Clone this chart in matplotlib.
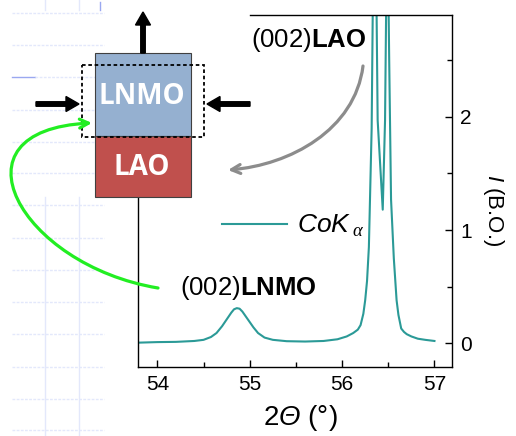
import numpy as np
import matplotlib
matplotlib.use('Agg')
import matplotlib.pyplot as plt
import matplotlib.patches as mpatches
from matplotlib.path import Path
from matplotlib.ticker import MultipleLocator

plt.rcParams['font.family'] = 'Liberation Sans'
plt.rcParams['mathtext.fontset'] = 'custom'
plt.rcParams['mathtext.rm'] = 'Liberation Sans'
plt.rcParams['mathtext.it'] = 'Liberation Sans:italic'
plt.rcParams['mathtext.bf'] = 'Liberation Sans:bold'
# slots used for the italic Greek letters (mathit forces capital Greek upright)
plt.rcParams['mathtext.sf'] = 'Liberation Sans:italic'
plt.rcParams['mathtext.tt'] = 'Liberation Serif:italic'

# XRD scan, 2theta (deg) vs intensity (arb. units)
two_theta = [53.79, 54.0, 54.2, 54.4, 54.5, 54.58, 54.64, 54.7, 54.75, 54.8,
             54.83, 54.86, 54.89, 54.92, 54.98, 55.04, 55.09, 55.16, 55.25, 55.4,
             55.6, 55.8, 55.95, 56.05, 56.12, 56.17, 56.20, 56.23, 56.25, 56.27,
             56.29, 56.32, 56.335, 56.355, 56.37, 56.385, 56.44, 56.465, 56.48, 56.49,
             56.50, 56.51, 56.53, 56.56, 56.59, 56.61, 56.64, 56.67, 56.70, 56.75,
             56.82, 56.9, 57.0]
intensity = [0.005, 0.01, 0.012, 0.02, 0.03, 0.055, 0.09, 0.15, 0.21, 0.27,
             0.30, 0.31, 0.305, 0.28, 0.21, 0.14, 0.09, 0.05, 0.03, 0.018,
             0.015, 0.02, 0.035, 0.06, 0.09, 0.12, 0.16, 0.26, 0.38, 0.55,
             0.85, 1.9, 3.2, 3.6, 3.2, 1.97, 1.18, 1.97, 3.2, 3.6,
             3.2, 2.5, 1.27, 0.75, 0.38, 0.25, 0.13, 0.10, 0.08, 0.06,
             0.04, 0.03, 0.02]

line_color = '#2b9a97'

fig = plt.figure(figsize=(5.16, 4.36), dpi=100)
ax = fig.add_axes([138/516, 1 - 367/436, 314/516, 352/436])

ax.plot(two_theta, intensity, color=line_color, lw=1.5,
        label=r'$CoK_{\;\mathtt{α}}$')
ax.set_xlim(53.79, 57.19)
ax.set_ylim(-0.21, 2.9)

ax.xaxis.set_major_locator(MultipleLocator(1))
ax.xaxis.set_minor_locator(MultipleLocator(0.5))
ax.yaxis.set_major_locator(MultipleLocator(1))
ax.yaxis.set_minor_locator(MultipleLocator(0.5))
ax.yaxis.tick_right()
ax.tick_params(which='both', direction='in', top=False, left=False, right=True,
               labelsize=15, width=1)
ax.tick_params(which='major', length=5, pad=6)
ax.tick_params(which='minor', length=3.5)

for s in ax.spines.values():
    s.set_linewidth(1.0)
ax.spines['top'].set_bounds(55.0, 57.19)
ax.spines['left'].set_bounds(-0.21, 1.29)

ax.set_xlabel(r'2$\mathsf{Θ}$ (°)', fontsize=20)
ax.xaxis.set_label_coords(0.516, -0.145)
ax.xaxis.label.set_va('center')
ax.yaxis.set_label_position('right')
ax.set_ylabel(r'$\mathit{I}$ (B.O.)', fontsize=16, rotation=270)
ax.yaxis.set_label_coords(1.131, 0.447)
ax.yaxis.label.set_va('center')
ax.yaxis.label.set_ha('center')

ax.legend(loc='center left', bbox_to_anchor=(221.7/516, 1 - 226/436),
          bbox_transform=fig.transFigure, frameon=False, fontsize=19,
          handlelength=2.46, handletextpad=0.38, borderpad=0, borderaxespad=0)

ax.text(55.64, 2.68, r'(002)$\mathbf{LAO}$', fontsize=18.5, ha='center', va='center')
ax.text(54.98, 0.49, r'(002)$\mathbf{LNMO}$', fontsize=18.5, ha='center', va='center')

# sketch of the strained film on the substrate, in pixel units
sk = fig.add_axes([0, 0, 1, 1], zorder=3)
sk.set_xlim(0, 516)
sk.set_ylim(436, 0)
sk.axis('off')

# faint ruled background
grid_c = '#e3e8fb'
for gy in [13, 45, 110, 142, 173, 205, 238, 270, 302, 334, 367, 399, 430]:
    sk.plot([12, 104], [gy, gy], color=grid_c, lw=1, ls=(0, (2, 1)), zorder=0)
sk.plot([12, 35], [77, 77], color='#9aa8f0', lw=1, zorder=0)
sk.plot([35, 104], [77, 77], color=grid_c, lw=1, ls=(0, (2, 1)), zorder=0)
for gx in [45, 79]:
    sk.plot([gx, gx], [197, 436], color=grid_c, lw=1, zorder=0)
    sk.plot([gx, gx], [0, 10], color=grid_c, lw=1, zorder=0)
sk.plot([100, 100], [2, 10], color='#9aa8f0', lw=1, zorder=0)

sk.add_patch(mpatches.Rectangle((95, 53), 96, 83, facecolor='#95b0d0',
                                edgecolor='#404040', lw=0.8, zorder=2))
sk.add_patch(mpatches.Rectangle((95, 136), 96, 61, facecolor='#c0504d',
                                edgecolor='#404040', lw=0.8, zorder=2))
sk.add_patch(mpatches.Rectangle((82, 65), 122, 72, facecolor='none',
                                edgecolor='black', lw=1.3, ls=(0, (2, 1.5)), zorder=3))
sk.text(142, 96, 'LNMO', color='white', fontsize=20, fontweight='bold',
        family='Open Sans', ha='center', va='center', zorder=4)
sk.text(142, 167, 'LAO', color='white', fontsize=20, fontweight='bold',
        family='Open Sans', ha='center', va='center', zorder=4)

for x0, y0, dx, dy in [(143, 53, 0, -41), (36, 104, 43, 0), (250, 104, -43, 0)]:
    sk.add_patch(mpatches.FancyArrow(x0, y0, dx, dy, width=4.5, head_width=15,
                                     head_length=13, length_includes_head=True,
                                     color='black', zorder=4))

green = Path([(158, 288), (20, 265), (-55, 130), (92, 123)],
             [Path.MOVETO, Path.CURVE4, Path.CURVE4, Path.CURVE4])
sk.add_patch(mpatches.FancyArrowPatch(path=green, arrowstyle='->', color='#22ee22',
                                      lw=2.3, mutation_scale=16, zorder=4))
gray = Path([(363, 66), (355, 130), (290, 165), (228, 170)],
            [Path.MOVETO, Path.CURVE4, Path.CURVE4, Path.CURVE4])
sk.add_patch(mpatches.FancyArrowPatch(path=gray, arrowstyle='->', color='#8c8c8c',
                                      lw=2.3, mutation_scale=16, zorder=4))

fig.savefig('out.png', dpi=100)
